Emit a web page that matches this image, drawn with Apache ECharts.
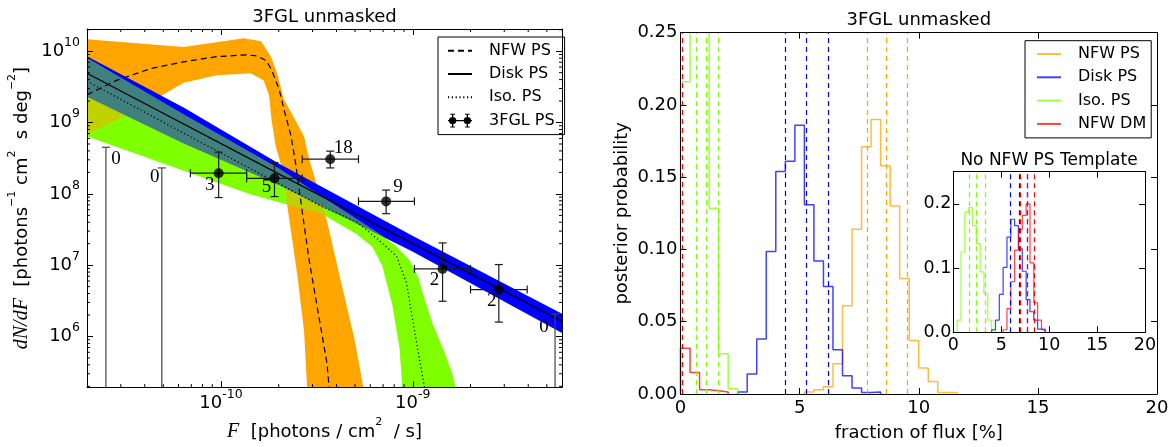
<!DOCTYPE html>
<html>
<head>
<meta charset="utf-8">
<title>3FGL unmasked</title>
<script src="https://cdn.jsdelivr.net/npm/echarts@6.0.0/dist/echarts.min.js"></script>
<style>
  html, body { margin: 0; padding: 0; background: #fff; }
  #chart { width: 1172px; height: 447px; }
</style>
</head>
<body>
<div id="chart"></div>
<script>
// ---------- left panel: source-count function dN/dF ----------
const fluxRange = [2e-11, 6e-9];
const dndfRange = [1.95e5, 2.05e10];

// NFW PS band (orange) and median, points are [F, dN/dF]
const nfwUpper = [[2.0e-11, 1.47e10], [6.38e-11, 1.15e10], [1.03e-10, 1.38e10], [1.31e-10, 1.52e10], [1.62e-10, 1.38e10], [1.82e-10, 8.4e9], [1.96e-10, 4.9e9], [2.13e-10, 2.1e9], [2.71e-10, 6.4e8], [2.88e-10, 3.1e8], [3.53e-10, 4.7e7], [4.23e-10, 5.7e6], [4.95e-10, 9.5e5], [5.52e-10, 1.95e5]];
const nfwLower = [[2.0e-11, 6.8e8], [3.49e-11, 1.40e9], [6.38e-11, 3.6e9], [9.49e-11, 4.6e9], [1.43e-10, 4.9e9], [1.67e-10, 3.9e9], [1.78e-10, 2.4e9], [1.84e-10, 1.02e9], [1.93e-10, 4.6e8], [2.08e-10, 2.26e8], [2.26e-10, 4.7e7], [2.49e-10, 7.8e6], [2.71e-10, 1.19e6], [2.81e-10, 1.95e5]];
const nfwMedian = [[2.0e-11, 2.45e9], [2.85e-11, 3.9e9], [4.29e-11, 5.7e9], [6.38e-11, 7.1e9], [9.49e-11, 8.4e9], [1.36e-10, 8.9e9], [1.54e-10, 8.6e9], [1.72e-10, 7.4e9], [1.84e-10, 5.4e9], [2.01e-10, 2.9e9], [2.13e-10, 1.53e9], [2.32e-10, 6.4e8], [2.46e-10, 2.48e8], [2.65e-10, 5.7e7], [2.88e-10, 1.18e7], [3.25e-10, 1.79e6], [3.57e-10, 4.2e5], [3.66e-10, 1.95e5]];

// Disk PS band (blue) and median
const diskUpper = [[2.0e-11, 8.5e9], [6.38e-11, 1.63e9], [2.01e-10, 2.64e8], [9.96e-10, 2.58e7], [6.0e-9, 2.09e6]];
const diskLower = [[2.0e-11, 2.3e9], [6.38e-11, 5.1e8], [2.01e-10, 1.32e8], [9.96e-10, 1.56e7], [6.0e-9, 1.12e6]];
const diskMedian = [[2.0e-11, 4.9e9], [2.01e-10, 1.89e8], [6.0e-9, 1.63e6]];

// Iso. PS band (green) and median
const isoUpper = [[2.0e-11, 8.1e9], [6.38e-11, 1.31e9], [2.01e-10, 2.26e8], [6.70e-10, 2.75e7], [8.22e-10, 1.83e7], [9.61e-10, 1.18e7], [1.06e-9, 7.1e6], [1.15e-9, 3.35e6], [1.27e-9, 1.48e6], [1.43e-9, 7.0e5], [1.60e-9, 3.1e5], [1.67e-9, 1.95e5]];
const isoLower = [[2.0e-11, 6.4e8], [6.38e-11, 2.12e8], [1.40e-10, 1.0e8], [3.37e-10, 5.2e7], [5.07e-10, 2.75e7], [6.15e-10, 1.83e7], [6.94e-10, 9.8e6], [7.83e-10, 2.77e6], [8.53e-10, 7.0e5], [8.83e-10, 1.95e5]];
const isoMedian = [[2.0e-11, 3.8e9], [6.38e-11, 7.1e8], [3.37e-10, 6.6e7], [5.07e-10, 4.1e7], [6.70e-10, 2.21e7], [8.22e-10, 1.34e7], [9.27e-10, 5.7e6], [9.96e-10, 1.79e6], [1.08e-9, 5.1e5], [1.15e-9, 1.95e5]];

// 3FGL point sources: bin centres, bin edges, values, errors, counts
const fglF = [9.72e-11, 1.90e-10, 3.71e-10, 7.26e-10, 1.43e-9, 2.81e-9];
const fglEdges = [6.92e-11, 1.36e-10, 2.65e-10, 5.21e-10, 1.02e-9, 2.0e-9, 3.95e-9];
const fglVal = [1.95e8, 1.65e8, 3.06e8, 7.84e7, 8.87e6, 4.55e6];
const fglLo = [8.87e7, 9.16e7, 2.31e8, 5.27e7, 3.12e6, 1.59e6];
const fglHi = [3.84e8, 2.75e8, 3.97e8, 1.13e8, 2.05e7, 1.02e7];
const fglCounts = [3, 5, 18, 9, 2, 2];
// empty bins drawn as upper limits
const limF = [2.51e-11, 4.91e-11, 5.52e-9];
const limVal = [4.50e8, 2.31e8, 2.07e6];
const limCounts = [0, 0, 0];
// where the count labels sit relative to their point (px)
const fglLabelOffset = [[-9, 12], [-8, 9], [13, -11], [12, -14], [-8, 11], [-7, 11]];
const limLabelOffset = [[10, 12], [-7, 9], [-11, 13]];

// ---------- right panel: posterior of flux fraction ----------
const binW = 0.4;
const nfwHistStart = 5.2;
const nfwHist = [0.0014, 0.003, 0.005, 0.021, 0.061, 0.114, 0.171, 0.190, 0.158, 0.130, 0.080, 0.037, 0.018, 0.0086, 0.001, 0.001];
const diskHistStart = 2.4;
const diskHist = [0.0014, 0.0138, 0.038, 0.0986, 0.154, 0.161, 0.186, 0.131, 0.092, 0.0743, 0.0306, 0.0127, 0.0041, 0.001, 0.0014];
const isoHistStart = 0;
const isoHist = [0.216, 0.34, 0.31, 0.1285, 0.0278, 0.0036];
const dmHistStart = 0;
const dmHist = [0.0317, 0.0149, 0.0029, 0.0023, 0.0014];
const nfwQ = [7.83, 8.63, 9.53];
const diskQ = [4.40, 5.27, 6.19];
const isoQ = [0.68, 1.08, 1.59];
const dmQ = [0.09];

// inset: fit without the NFW PS template
const isoInsetStart = 0.4;
const isoInset = [0.019, 0.125, 0.187, 0.194, 0.166, 0.138, 0.094, 0.060, 0.019, 0.003];
const diskInsetStart = 4.0;
const diskInset = [0.004, 0.019, 0.059, 0.101, 0.148, 0.176, 0.166, 0.130, 0.095, 0.051, 0.032, 0.019, 0.005, 0.003];
const dmInsetStart = 5.2;
const dmInset = [0.004, 0.037, 0.079, 0.128, 0.160, 0.182, 0.200, 0.108, 0.046, 0.019, 0.005];
const isoInsetQ = [1.67, 2.43, 3.30];
const diskInsetQ = [5.91, 6.85, 7.75];
const dmInsetQ = [6.96, 7.76, 8.45];

const ORANGE = '#FFA500', BLUE = '#0000FF', GREEN = '#7FFF00', RED = '#FF0000';
const FONT = 'DejaVu Sans';

const chart = echarts.init(document.getElementById('chart'));

// filled band between an upper and a lower curve
function band(name, upper, lower, fill) {
  return {
    type: 'custom', name, xAxisIndex: 0, yAxisIndex: 0, clip: true, silent: true,
    data: [upper[0]],
    renderItem(params, api) {
      const pts = upper.concat(lower.slice().reverse()).map(p => api.coord(p));
      return { type: 'polygon', shape: { points: pts }, style: { fill } };
    }
  };
}

function medianLine(name, data, type, width) {
  return {
    type: 'line', name, xAxisIndex: 0, yAxisIndex: 0, data, symbol: 'none', clip: true,
    color: '#000', lineStyle: { color: '#000', width, type }
  };
}

// step histogram (matplotlib histtype='step') with dashed quantile lines
function hist(name, start, vals, color, q, axis, width) {
  const pts = [[start, 0]];
  vals.forEach((v, i) => pts.push([start + i * binW, v]));
  pts.push([start + vals.length * binW, 0]);
  return {
    type: 'line', name, xAxisIndex: axis, yAxisIndex: axis, data: pts, step: 'end',
    symbol: 'none', clip: true, color,
    lineStyle: { color, width, opacity: 0.75 },
    markLine: {
      silent: true, symbol: ['none', 'none'], label: { show: false },
      lineStyle: { color, type: [5, 4], width: 1.2, opacity: 1 },
      data: q.map(v => ({ xAxis: v }))
    }
  };
}

const logLabel = v => {
  const e = Math.log10(v), r = Math.round(e);
  if (Math.abs(e - r) > 1e-6) return '';
  return '{b|10}{s|' + r + '}';
};
const logRich = {
  b: { fontSize: 18, fontFamily: FONT, color: '#000', padding: [6, 0, 6, 0] },
  s: { fontSize: 12.5, fontFamily: FONT, color: '#000', verticalAlign: 'top' }
};

function frameAxis(extra) {
  return Object.assign({
    axisLine: { show: true, onZero: false, lineStyle: { color: '#000', width: 1 } },
    axisTick: { show: true, inside: true, length: 6, lineStyle: { color: '#000', width: 1 } },
    splitLine: { show: false },
    z: 5
  }, extra);
}

const minorTicks = (lo, hi) => {
  const out = [];
  for (let e = Math.floor(Math.log10(lo)); e <= Math.ceil(Math.log10(hi)); e++) {
    for (let k = 2; k <= 9; k++) {
      const v = k * Math.pow(10, e);
      if (v > lo && v < hi) out.push(v);
    }
  }
  return out;
};
const minorData = minorTicks(fluxRange[0], fluxRange[1]).map(v => [v, dndfRange[0], 0])
  .concat(minorTicks(dndfRange[0], dndfRange[1]).map(v => [fluxRange[0], v, 1]));

const errStyle = { stroke: '#1a1a1a', lineWidth: 1.2 };
const seg = (a, b, style) => ({ type: 'line', shape: { x1: a[0], y1: a[1], x2: b[0], y2: b[1] }, style });
const countText = (p, off, n) => ({
  type: 'text',
  style: { text: String(n), x: p[0] + off[0], y: p[1] + off[1], fill: '#000', font: '19px "Liberation Serif"', align: 'center', verticalAlign: 'middle' }
});

// errorbar handle for the legend: two points with x/y error bars (all subpaths clockwise)
const legendIcon3FGL = 'path://M0 7.3H26V8.7H0Z M4.3 0.5H5.7V15.5H4.3Z M2.5 0.5H7.5V1.7H2.5Z M2.5 14.3H7.5V15.5H2.5Z M20.3 0.5H21.7V15.5H20.3Z M18.5 0.5H23.5V1.7H18.5Z M18.5 14.3H23.5V15.5H18.5Z M1 8A4 4 0 1 1 9 8A4 4 0 1 1 1 8Z M17 8A4 4 0 1 1 25 8A4 4 0 1 1 17 8Z';

const legendBase = {
  orient: 'vertical', itemWidth: 24, itemHeight: 16, itemGap: 7.3, selectedMode: false,
  borderColor: '#000', borderWidth: 1, backgroundColor: '#fff',
  itemStyle: { opacity: 0 },
  textStyle: { fontSize: 16, fontFamily: FONT, color: '#000', padding: [0, 0, 0, 12] }
};

const option = {
  animation: false,
  backgroundColor: '#fff',
  textStyle: { fontFamily: FONT, color: '#000' },
  title: [
    { text: '3FGL unmasked', left: 324.5, top: 8, textAlign: 'center', padding: 0, textStyle: { fontSize: 18, fontWeight: 'normal', fontFamily: FONT, color: '#000' } },
    { text: '3FGL unmasked', left: 918.8, top: 11, textAlign: 'center', padding: 0, textStyle: { fontSize: 18, fontWeight: 'normal', fontFamily: FONT, color: '#000' } },
    { text: 'No NFW PS Template', left: 1049, top: 152, textAlign: 'center', padding: 0, textStyle: { fontSize: 17, fontWeight: 'normal', fontFamily: FONT, color: '#000' } }
  ],
  legend: [
    Object.assign({}, legendBase, {
      data: [{ name: 'NFW PS' }, { name: 'Disk PS' }, { name: 'Iso. PS' },
        { name: '3FGL PS', icon: legendIcon3FGL, itemStyle: { opacity: 1, color: '#000' } }],
      left: 438, top: 37, padding: [5.7, 10, 6, 9]
    }),
    Object.assign({}, legendBase, {
      data: ['NFW PS hist', 'Disk PS hist', 'Iso. PS hist', 'NFW DM hist'],
      formatter: n => n.replace(' hist', ''),
      left: 1025, top: 40.7, padding: [5.3, 5, 6, 11]
    })
  ],
  grid: [
    { left: 87, top: 29, right: 610, bottom: 51 },
    { left: 680.5, top: 32.7, right: 15, bottom: 46 },
    { left: 953.3, top: 171.7, right: 27, bottom: 114.7, show: true, backgroundColor: '#fff', borderWidth: 0, z: 3 }
  ],
  xAxis: [
    frameAxis({
      type: 'log', logBase: 10, gridIndex: 0, min: fluxRange[0], max: fluxRange[1],
      axisLabel: { formatter: logLabel, rich: logRich, margin: 1 },
      name: '{i|F}{t|  [photons / cm}{s|2}{t|  / s]}', nameLocation: 'middle', nameGap: 25,
      nameTextStyle: {
        rich: {
          i: { fontSize: 20, fontFamily: 'Liberation Serif', fontStyle: 'italic', color: '#000', padding: [5, 0, 5, 0] },
          t: { fontSize: 18, fontFamily: FONT, color: '#000', padding: [5, 0, 5, 0] },
          s: { fontSize: 11, fontFamily: FONT, color: '#000', verticalAlign: 'top' }
        }
      }
    }),
    frameAxis({ type: 'log', logBase: 10, gridIndex: 0, position: 'top', min: fluxRange[0], max: fluxRange[1], axisLabel: { show: false } }),
    frameAxis({
      type: 'value', gridIndex: 1, min: 0, max: 20, interval: 5,
      axisLabel: { fontSize: 18, fontFamily: FONT, color: '#000', margin: 5 },
      name: 'fraction of flux [%]', nameLocation: 'middle', nameGap: 30,
      nameTextStyle: { fontSize: 18, fontFamily: FONT, color: '#000' }
    }),
    frameAxis({ type: 'value', gridIndex: 1, position: 'top', min: 0, max: 20, interval: 5, axisLabel: { show: false } }),
    frameAxis({
      type: 'value', gridIndex: 2, min: 0, max: 20, interval: 5,
      axisLabel: { fontSize: 17.5, fontFamily: FONT, color: '#000', margin: 4 }
    }),
    frameAxis({ type: 'value', gridIndex: 2, position: 'top', min: 0, max: 20, interval: 5, axisLabel: { show: false } })
  ],
  yAxis: [
    frameAxis({
      type: 'log', logBase: 10, gridIndex: 0, min: dndfRange[0], max: dndfRange[1],
      axisLabel: { formatter: logLabel, rich: logRich, margin: 7 },
      name: '{i|dN/dF}{t|  [photons}{s|\u22121}{t| cm}{s|2}{t|  s deg}{s|\u22122}{t|]}',
      nameLocation: 'middle', nameRotate: 90, nameGap: 50,
      nameTextStyle: {
        rich: {
          i: { fontSize: 20, fontFamily: 'Liberation Serif', fontStyle: 'italic', color: '#000', padding: [5, 0, 5, 0] },
          t: { fontSize: 18, fontFamily: FONT, color: '#000', padding: [5, 0, 5, 0] },
          s: { fontSize: 11, fontFamily: FONT, color: '#000', verticalAlign: 'top' }
        }
      }
    }),
    frameAxis({ type: 'log', logBase: 10, gridIndex: 0, position: 'right', min: dndfRange[0], max: dndfRange[1], axisLabel: { show: false } }),
    frameAxis({
      type: 'value', gridIndex: 1, min: 0, max: 0.25, interval: 0.05,
      axisLabel: { fontSize: 18, fontFamily: FONT, color: '#000', margin: 3, formatter: v => v.toFixed(2) },
      name: 'posterior probability', nameLocation: 'middle', nameRotate: 90, nameGap: 49,
      nameTextStyle: { fontSize: 18, fontFamily: FONT, color: '#000' }
    }),
    frameAxis({ type: 'value', gridIndex: 1, position: 'right', min: 0, max: 0.25, interval: 0.05, axisLabel: { show: false } }),
    frameAxis({
      type: 'value', gridIndex: 2, min: 0, max: 0.25, interval: 0.1,
      axisLabel: {
        fontSize: 17.5, fontFamily: FONT, color: '#000', margin: 2,
        formatter: v => (Math.abs(v * 10 - Math.round(v * 10)) > 1e-6 ? '' : v.toFixed(1))
      }
    }),
    frameAxis({ type: 'value', gridIndex: 2, position: 'right', min: 0, max: 0.25, interval: 0.1, axisLabel: { show: false } })
  ],
  series: [
    // bands: opaque layers, then a half-transparent green on top (gives the teal / olive overlaps)
    band('iso band', isoUpper, isoLower, GREEN),
    band('nfw band', nfwUpper, nfwLower, ORANGE),
    band('disk band', diskUpper, diskLower, BLUE),
    band('iso band overlay', isoUpper, isoLower, 'rgba(127,255,0,0.5)'),
    medianLine('NFW PS', nfwMedian, [6, 4], 1.2),
    medianLine('Disk PS', diskMedian, 'solid', 1.2),
    medianLine('Iso. PS', isoMedian, [1.2, 2.6], 1.2),
    {
      type: 'custom', name: '3FGL errors', xAxisIndex: 0, yAxisIndex: 0, silent: true, z: 4,
      data: fglF.map((f, i) => [f, fglVal[i]]),
      renderItem(params, api) {
        const i = params.dataIndex, cap = 4;
        const c = api.coord([fglF[i], fglVal[i]]);
        const l = api.coord([fglEdges[i], fglVal[i]]);
        const r = api.coord([fglEdges[i + 1], fglVal[i]]);
        const lo = api.coord([fglF[i], fglLo[i]]);
        const hi = api.coord([fglF[i], fglHi[i]]);
        return {
          type: 'group', children: [
            seg(l, r, errStyle),
            seg([l[0], l[1] - cap], [l[0], l[1] + cap], errStyle),
            seg([r[0], r[1] - cap], [r[0], r[1] + cap], errStyle),
            seg(lo, hi, errStyle),
            seg([lo[0] - cap, lo[1]], [lo[0] + cap, lo[1]], errStyle),
            seg([hi[0] - cap, hi[1]], [hi[0] + cap, hi[1]], errStyle),
            countText(c, fglLabelOffset[i], fglCounts[i])
          ]
        };
      }
    },
    {
      type: 'custom', name: '3FGL limits', xAxisIndex: 0, yAxisIndex: 0, silent: true, z: 4,
      data: limF.map((f, i) => [f, limVal[i]]),
      renderItem(params, api) {
        const i = params.dataIndex, cap = 4;
        const top = api.coord([limF[i], limVal[i]]);
        const bot = api.coord([limF[i], dndfRange[0]]);
        const st = { stroke: '#444', lineWidth: 1.2 };
        return {
          type: 'group', children: [
            seg(bot, top, st),
            seg([top[0] - cap, top[1]], [top[0] + cap, top[1]], st),
            countText(top, limLabelOffset[i], limCounts[i])
          ]
        };
      }
    },
    {
      type: 'scatter', name: '3FGL PS', xAxisIndex: 0, yAxisIndex: 0, z: 6,
      data: fglF.map((f, i) => [f, fglVal[i]]),
      symbol: 'circle', symbolSize: 10, color: '#000', itemStyle: { color: '#000' }
    },
    {
      type: 'custom', name: 'minor ticks', xAxisIndex: 0, yAxisIndex: 0, silent: true, z: 6,
      data: minorData,
      renderItem(params, api) {
        const cs = params.coordSys, len = 3;
        const p = api.coord([api.value(0), api.value(1)]);
        const st = { stroke: '#000', lineWidth: 1 };
        if (api.value(2) === 0) {
          return { type: 'group', children: [
            seg([p[0], cs.y + cs.height], [p[0], cs.y + cs.height - len], st),
            seg([p[0], cs.y], [p[0], cs.y + len], st)
          ] };
        }
        return { type: 'group', children: [
          seg([cs.x, p[1]], [cs.x + len, p[1]], st),
          seg([cs.x + cs.width, p[1]], [cs.x + cs.width - len, p[1]], st)
        ] };
      }
    },
    // right panel histograms
    hist('NFW PS hist', nfwHistStart, nfwHist, ORANGE, nfwQ, 2, 1.5),
    hist('Disk PS hist', diskHistStart, diskHist, BLUE, diskQ, 2, 1.5),
    hist('Iso. PS hist', isoHistStart, isoHist, GREEN, isoQ, 2, 1.5),
    hist('NFW DM hist', dmHistStart, dmHist, RED, dmQ, 2, 1.5),
    // inset histograms
    Object.assign(hist('inset iso', isoInsetStart, isoInset, GREEN, isoInsetQ, 4, 1.2), { z: 4 }),
    Object.assign(hist('inset disk', diskInsetStart, diskInset, BLUE, diskInsetQ, 4, 1.2), { z: 4 }),
    Object.assign(hist('inset dm', dmInsetStart, dmInset, RED, dmInsetQ, 4, 1.2), { z: 4 })
  ]
};

chart.setOption(option);
</script>
</body>
</html>
